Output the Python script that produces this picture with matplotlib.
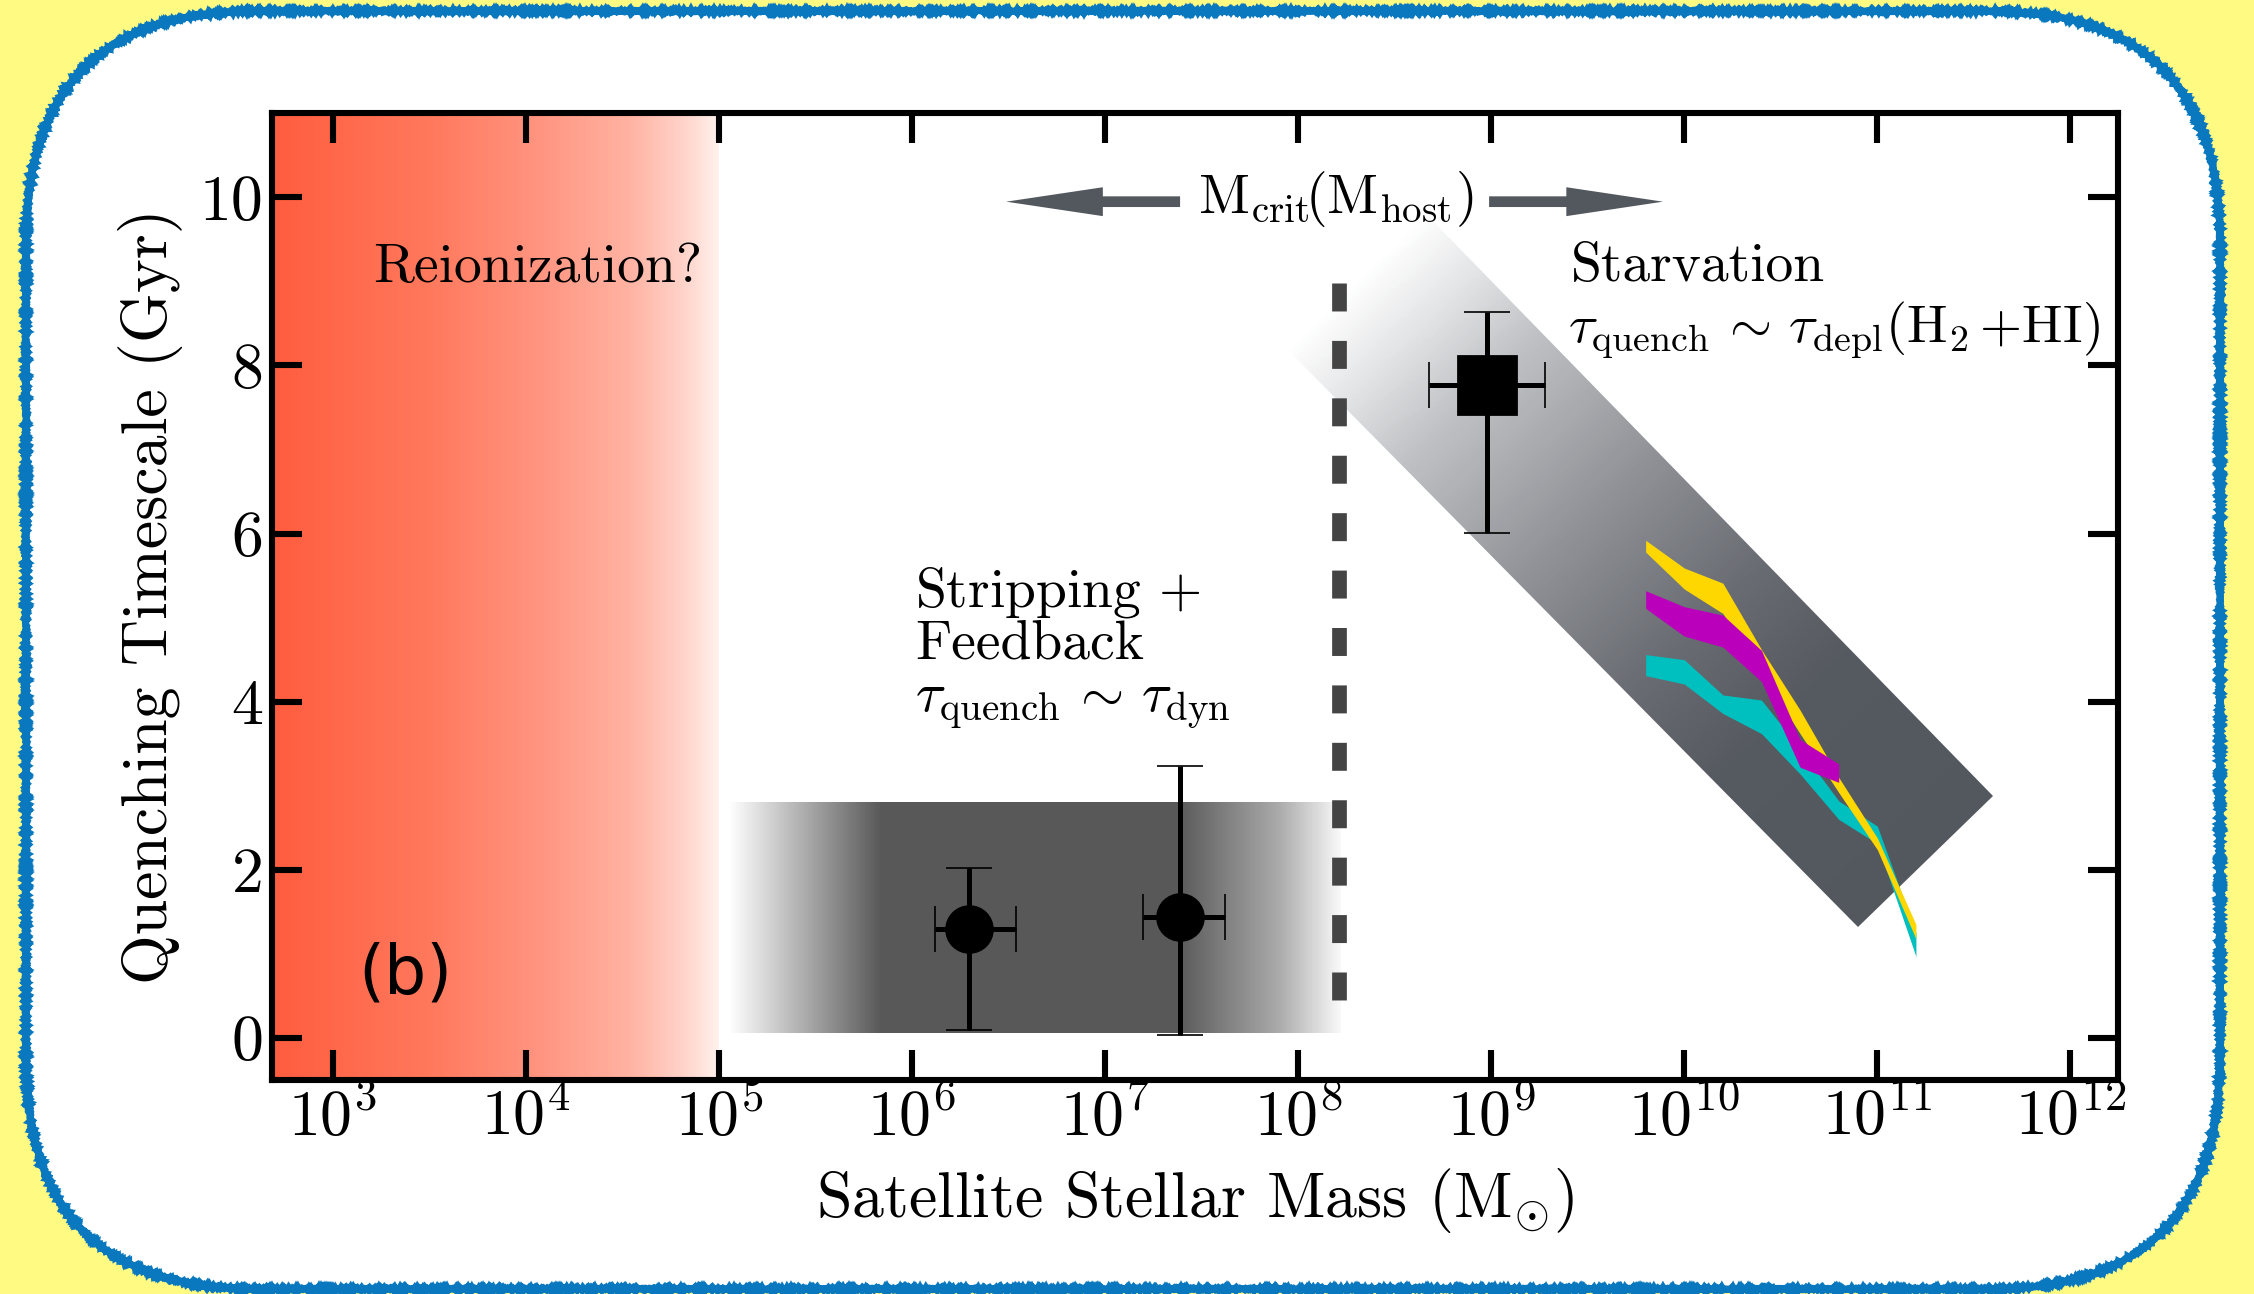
import numpy as np
import matplotlib
matplotlib.use("Agg")
import matplotlib.pyplot as plt
from matplotlib.colors import LinearSegmentedColormap
from matplotlib.patches import Polygon, FancyBboxPatch, FancyArrowPatch, ArrowStyle

plt.rcParams['font.family'] = 'serif'
plt.rcParams['font.serif'] = ['cmr10']
plt.rcParams['mathtext.fontset'] = 'cm'
plt.rcParams['axes.unicode_minus'] = False

# ---- data ----
x_tick_exp = [3, 4, 5, 6, 7, 8, 9, 10, 11, 12]
y_ticks = [0, 2, 4, 6, 8, 10]

reion_max = 1e5                      # reionization shading ends here
strip_mass = [10**5.05, 10**8.22]    # stripping + feedback band
strip_tau = [0.06, 2.81]
mcrit_mass = 10**8.21
mcrit_tau = [8.98, 0.39]

# satellites (circles)
sat_mass = np.array([1.97e6, 2.45e7])
sat_mass_lo = np.array([1.32e6, 1.58e7])
sat_mass_hi = np.array([3.47e6, 4.17e7])
sat_tau = np.array([1.29, 1.44])
sat_tau_lo = np.array([0.09, 0.04])
sat_tau_hi = np.array([2.02, 3.24])

# massive satellites (square)
mw_mass = np.array([9.55e8])
mw_mass_lo = np.array([4.79e8])
mw_mass_hi = np.array([1.91e9])
mw_tau = np.array([7.77])
mw_tau_lo = np.array([6.01])
mw_tau_hi = np.array([8.63])

# starvation band corners (log mass, tau)
starve_logm = np.array([7.94, 8.65, 11.60, 10.90])
starve_tau = np.array([8.20, 9.83, 2.88, 1.32])

# depletion-time tracks
track_logm = np.array([9.8, 10.0, 10.2, 10.4, 10.6, 10.8, 11.0, 11.2])
cyan_hi = [4.56, 4.50, 4.08, 4.02, 3.44, 2.82, 2.52, 1.25]
cyan_lo = [4.31, 4.21, 3.86, 3.62, 3.14, 2.60, 2.31, 0.97]
yellow_hi = [5.92, 5.59, 5.41, 4.62, 3.90, 3.10, 2.38, 1.35]
yellow_lo = [5.78, 5.34, 5.05, 4.34, 3.62, 2.92, 2.24, 1.18]
magenta_hi = [5.32, 5.13, 5.03, 4.61, 3.55, 3.26]
magenta_lo = [5.11, 4.78, 4.65, 4.24, 3.22, 3.04]

xlim = (10**2.684, 10**12.246)
ylim = (-0.5, 11.0)


def cmap_from(name, stops):
    return LinearSegmentedColormap.from_list(name, [(p, np.array(c) / 255.) for p, c in stops])


red_cmap = cmap_from('reion', [(0, (255, 92, 62)), (0.35, (255, 120, 92)), (0.6, (255, 148, 128)),
                               (0.8, (255, 178, 162)), (0.92, (255, 210, 200)), (1, (255, 240, 236))])
band_cmap = cmap_from('starve', [(0, (255, 255, 255)), (0.1, (225, 226, 228)), (0.2, (192, 193, 196)),
                                 (0.4, (145, 147, 152)), (0.6, (104, 107, 113)), (0.75, (85, 89, 96)),
                                 (1, (83, 87, 94))])

fig = plt.figure(figsize=(11.27, 6.47), dpi=200, facecolor='#fffa82')

# rounded white card with rough blue border
bg = fig.add_axes([0, 0, 1, 1], zorder=-5)
bg.set_xlim(0, 2254)
bg.set_ylim(1294, 0)
bg.set_facecolor('none')
bg.axis('off')
card = FancyBboxPatch((26, 11), 2194, 1278, boxstyle='round,pad=0,rounding_size=230',
                      facecolor='white', edgecolor='#0a78be', lw=2.6)
card.set_sketch_params(scale=1.0, length=2.0, randomness=1.5)
bg.add_patch(card)

ax = fig.add_axes([0.1206, 0.1654, 0.8190, 0.7471])
ax.set_facecolor('white')
ax.set_xscale('log')
ax.set_xlim(*xlim)
ax.set_ylim(*ylim)

# reionization gradient
lx = np.linspace(np.log10(xlim[0]), np.log10(reion_max), 257)
ax.pcolormesh(10**lx, ylim, np.linspace(0, 1, 256)[None, :], cmap=red_cmap,
              vmin=0, vmax=1, shading='flat', antialiased=False, zorder=0.5)

# stripping band (fades at both ends)
lx = np.linspace(np.log10(strip_mass[0]), np.log10(strip_mass[1]), 401)
cx = 0.5 * (lx[1:] + lx[:-1])
shade = np.interp(cx, [5.05, 5.84, 7.37, 7.9, 8.22], [255, 88, 88, 170, 248]) / 255.
ax.pcolormesh(10**lx, strip_tau, shade[None, :], cmap='gray', vmin=0, vmax=1,
              shading='flat', antialiased=False, zorder=1)

# starvation band, gradient along its long axis
poly = Polygon(np.column_stack([10**starve_logm, starve_tau]), closed=True,
               facecolor='none', edgecolor='none', transform=ax.transData)
ax.add_patch(poly)
gx = np.linspace(starve_logm.min(), starve_logm.max(), 301)
gy = np.linspace(starve_tau.min(), starve_tau.max(), 301)
cgx, cgy = np.meshgrid(0.5 * (gx[1:] + gx[:-1]), 0.5 * (gy[1:] + gy[:-1]))
pix = ax.transData.transform(np.column_stack([10**cgx.ravel(), cgy.ravel()]))
corners = ax.transData.transform(np.column_stack([10**starve_logm, starve_tau]))
p0 = 0.5 * (corners[0] + corners[1])
p1 = 0.5 * (corners[2] + corners[3])
d = p1 - p0
s = ((pix - p0) @ d) / (d @ d)
mesh = ax.pcolormesh(10**gx, gy, s.reshape(cgx.shape), cmap=band_cmap, vmin=0, vmax=1,
                     shading='flat', antialiased=False, zorder=1)
mesh.set_clip_path(poly)

# tracks
ax.fill_between(10**track_logm, cyan_lo, cyan_hi, color='#00bfbf', lw=0, zorder=3)
ax.fill_between(10**track_logm, yellow_lo, yellow_hi, color='#ffd700', lw=0, zorder=3.1)
ax.fill_between(10**track_logm[:len(magenta_hi)], magenta_lo, magenta_hi, color='#bb00bb', lw=0, zorder=3.2)

# M_crit dashed line
ax.plot([mcrit_mass, mcrit_mass], mcrit_tau, color='#444444', lw=5.3, dashes=(1.9, 2.0),
        dash_capstyle='butt', zorder=4)

# points
ax.errorbar(sat_mass, sat_tau, xerr=[sat_mass - sat_mass_lo, sat_mass_hi - sat_mass],
            yerr=[sat_tau - sat_tau_lo, sat_tau_hi - sat_tau], fmt='o', ms=16.5, color='k',
            elinewidth=1.8, capsize=8.3, capthick=0.6, zorder=5)
ax.errorbar(mw_mass, mw_tau, xerr=[mw_mass - mw_mass_lo, mw_mass_hi - mw_mass],
            yerr=[mw_tau - mw_tau_lo, mw_tau_hi - mw_tau], fmt='s', ms=21, color='k',
            elinewidth=1.8, capsize=8.3, capthick=0.6, zorder=5)

# arrows around M_crit label
arrow_style = ArrowStyle.Simple(head_length=3.48, head_width=1.04, tail_width=0.385)
for a, b in [((0.492, 0.9085), (0.3978, 0.9085)), ((0.6594, 0.9085), (0.7536, 0.9085))]:
    ax.add_patch(FancyArrowPatch(a, b, transform=ax.transAxes, arrowstyle=arrow_style,
                                 mutation_scale=10, color='#53575e', shrinkA=0, shrinkB=0,
                                 lw=0, zorder=6))

tfs = 20
ax.text(0.5761, 0.8965, r'$\mathrm{M}_{\rm crit}\!(\mathrm{M}_{\rm host})$', transform=ax.transAxes,
        ha='center', va='baseline', fontsize=tfs, zorder=7)
ax.text(0.0549, 0.8257, 'Reionization?', transform=ax.transAxes, ha='left', va='baseline',
        fontsize=tfs, zorder=7)
ax.text(0.0723, 0.109, '(b)', transform=ax.transAxes, ha='center', va='center',
        fontsize=24, family='DejaVu Sans', zorder=7)
ax.text(0.3483, 0.4897, r'Stripping $+$', transform=ax.transAxes, ha='left', va='baseline',
        fontsize=tfs, zorder=7)
ax.text(0.3483, 0.4364, 'Feedback', transform=ax.transAxes, ha='left', va='baseline',
        fontsize=tfs, zorder=7)
ax.text(0.3483, 0.3811, r'$\tau_{\rm quench}\,\sim\,\tau_{\rm dyn}$', transform=ax.transAxes,
        ha='left', va='baseline', fontsize=tfs, zorder=7)
ax.text(0.7038, 0.8263, 'Starvation', transform=ax.transAxes, ha='left', va='baseline',
        fontsize=tfs, zorder=7)
ax.text(0.7020, 0.7625, r'$\tau_{\rm quench}\,\sim\,\tau_{\rm depl}(\mathrm{H}_2\,{+}\mathrm{HI})$',
        transform=ax.transAxes, ha='left', va='baseline', fontsize=19.5, zorder=7)

# axes styling
ax.set_xticks([10.0**e for e in x_tick_exp])
ax.set_xticklabels([r'$10^{%d}$' % e for e in x_tick_exp])
ax.xaxis.set_minor_locator(matplotlib.ticker.NullLocator())
ax.set_yticks(y_ticks)
ax.set_yticklabels([str(v) for v in y_ticks])
ax.tick_params(which='major', direction='in', length=10.8, width=2.2, top=True, right=True,
               labelsize=23)
ax.tick_params(axis='x', pad=3)
ax.tick_params(axis='y', pad=3)
for sp in ax.spines.values():
    sp.set_linewidth(2.2)
    sp.set_zorder(8)

ax.set_xlabel(r'Satellite Stellar Mass ($\mathrm{M}_{\odot}$)', fontsize=23, labelpad=6)
ax.set_ylabel('Quenching Timescale (Gyr)', fontsize=23, labelpad=6)

fig.savefig('out.png', dpi=200, facecolor=fig.get_facecolor())
